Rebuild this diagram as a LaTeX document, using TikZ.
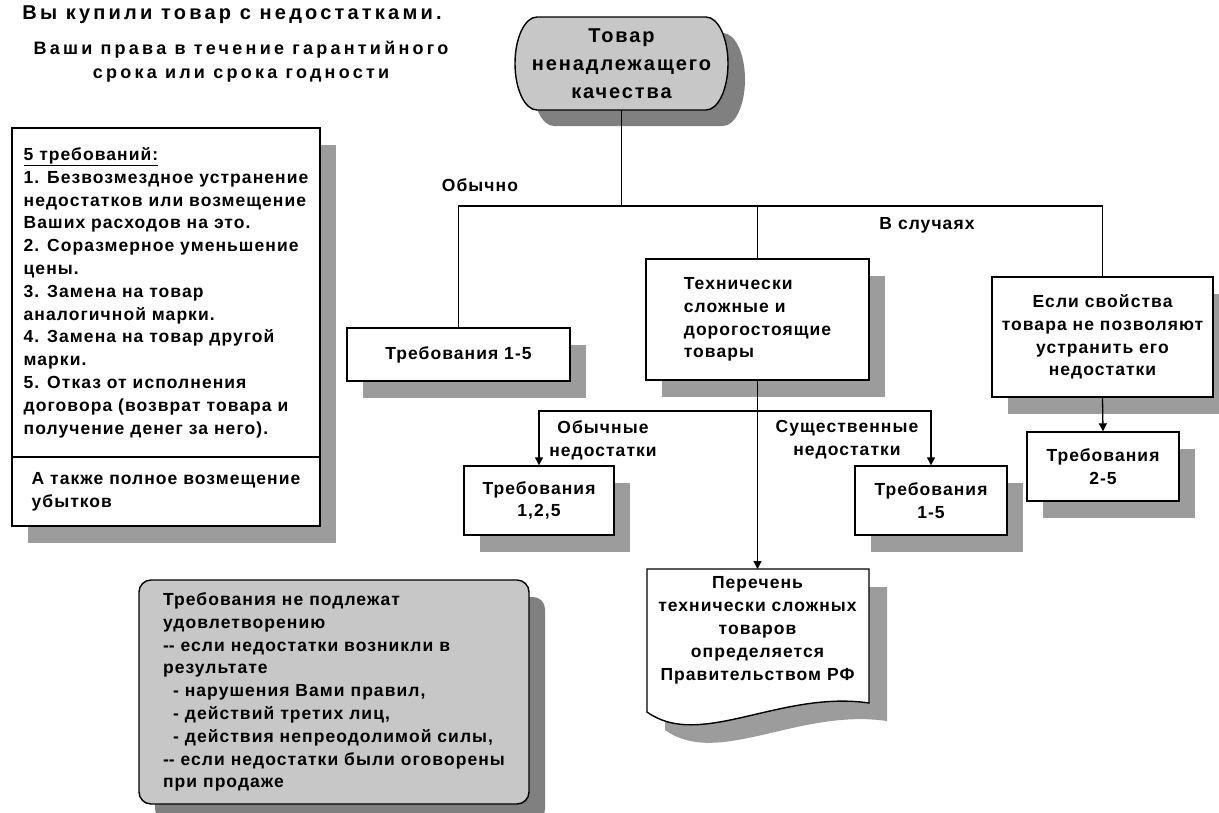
\documentclass[tikz,border=0pt]{standalone}
\usepackage{fontspec}
\setmainfont{Liberation Sans}[LetterSpace=6]
\usetikzlibrary{arrows.meta,shadows}
\definecolor{shadowA}{gray}{0.61}
\definecolor{shadowB}{gray}{0.50}
\definecolor{fillG}{gray}{0.78}
\tikzset{
  body/.style={font=\bfseries\fontsize{17.5}{22.8}\selectfont},
  basebox/.style={draw, line width=1.4pt, body, inner sep=0pt},
  wbox/.style={basebox, fill=white, drop shadow={shadow xshift=16pt, shadow yshift=-17pt, fill=shadowA, opacity=1}},
  gbox/.style={basebox, fill=fillG, rounded corners=12pt, drop shadow={shadow xshift=16pt, shadow yshift=-17pt, fill=shadowB, opacity=1}},
  lbl/.style={body, inner sep=0pt, align=center},
  conn/.style={line width=1.3pt},
  arr/.style={conn, -{Triangle[length=8pt,width=8pt]}},
  outline/.style={draw, line width=1.4pt},
}
\begin{document}
\begin{tikzpicture}[x=1pt,y=-1pt]
\useasboundingbox (0,0) rectangle (1219,812);
\fill[white] (0,0) rectangle (1219,812);

% title
\node[inner sep=0pt, font=\bfseries\fontsize{20}{22}\selectfont\addfontfeature{LetterSpace=16}] (title) at (232,15) {Вы купили товар с недостатками.};
\node[inner sep=0pt, align=center, font=\bfseries\fontsize{18}{24}\selectfont\addfontfeature{LetterSpace=18}] (sub) at (241,62) {Ваши права в течение гарантийного\\срока или срока годности};

% left box
\node[wbox, minimum width=308, minimum height=329, align=left] (reqs) at (166,292.5) {\underline{5 требований:}\\1. Безвозмездное устранение\\недостатков или возмещение\\Ваших расходов на это.\\2. Соразмерное уменьшение\\цены.\\3. Замена на товар\\аналогичной марки.\\4. Замена на товар другой\\марки.\\5. Отказ от исполнения\\договора (возврат товара и\\получение денег за него).};
\node[wbox, minimum width=308, minimum height=69, align=left] (also) at (166,491.5) {А также полное возмещение\\убытков};

% top rounded node
\path[fill=shadowB, shift={(17,16)}] (537,17) -- (706,17) arc[start angle=-90, end angle=90, x radius=22, y radius=46.5] -- (537,110) arc[start angle=90, end angle=270, x radius=22, y radius=46.5] -- cycle;
\path[outline, fill=fillG] (537,17) -- (706,17) arc[start angle=-90, end angle=90, x radius=22, y radius=46.5] -- (537,110) arc[start angle=90, end angle=270, x radius=22, y radius=46.5] -- cycle;
\node[inner sep=0pt, align=center, minimum width=213, minimum height=93, font=\bfseries\fontsize{20}{28}\selectfont\addfontfeature{LetterSpace=9.5}] (top) at (621.5,63.5) {Товар\\ненадлежащего\\качества};

% labels
\node[lbl] (usual) at (480,185) {Обычно};
\node[lbl] (cases) at (927,225) {В случаях};
\node[lbl] (ordlbl) at (603,440) {Обычные\\недостатки};
\node[lbl] (maglbl) at (847,440) {Существенные\\недостатки};

% boxes
\node[wbox, minimum width=223, minimum height=53] (req15) at (458.5,354.5) {Требования 1-5};
\node[wbox, minimum width=223, minimum height=121, align=left] (tech) at (757.5,319.5) {Технически\\сложные и\\дорогостоящие\\товары};
\node[wbox, minimum width=221, minimum height=120, align=center] (cond) at (1102.5,337) {Если свойства\\товара не позволяют\\устранить его\\недостатки};
\node[wbox, minimum width=152, minimum height=69, align=center] (req25) at (1103,466.5) {Требования\\2-5};
\node[wbox, minimum width=150, minimum height=69, align=center] (req125) at (539,500.5) {Требования\\1,2,5};
\node[wbox, minimum width=152, minimum height=69, align=center] (req15b) at (931,500.5) {Требования\\1-5};

% document shape
\path[fill=shadowA, shift={(18,18)}] (647,569) -- (869,569) -- (869,703) .. controls (780,690) and (700,750) .. (647,712) -- cycle;
\path[outline, fill=white] (647,569) -- (869,569) -- (869,703) .. controls (780,690) and (700,750) .. (647,712) -- cycle;
\node[inner sep=0pt, body, align=center, anchor=north, minimum width=222, minimum height=122] (doc) at (757.5,569) {Перечень\\технически сложных\\товаров\\определяется\\Правительством РФ};

% gray note
\node[gbox, minimum width=390, minimum height=224, align=left] (note) at (334,692) {Требования не подлежат\\удовлетворению\\-\kern0pt- если недостатки возникли в\\результате\\\hspace*{10pt}- нарушения Вами правил,\\\hspace*{10pt}- действий третих лиц,\\\hspace*{10pt}- действия непреодолимой силы,\\-\kern0pt- если недостатки были оговорены\\при продаже};

% connectors
\coordinate (bar) at (0,206);
\coordinate (bar2) at (0,411);
\draw[conn] (top.south) -- (top.south |- bar);
\draw[conn] (req15.north) |- (bar -| cond.north) -- (cond.north);
\draw[conn] (tech.north) -- (tech.north |- bar);
\draw[arr] (tech.south) -- (doc.north);
\draw[arr] (tech.south |- bar2) -| (req125.north);
\draw[arr] (tech.south |- bar2) -| (req15b.north);
\draw[arr] (cond.south) -- (req25.north);
\end{tikzpicture}
\end{document}
